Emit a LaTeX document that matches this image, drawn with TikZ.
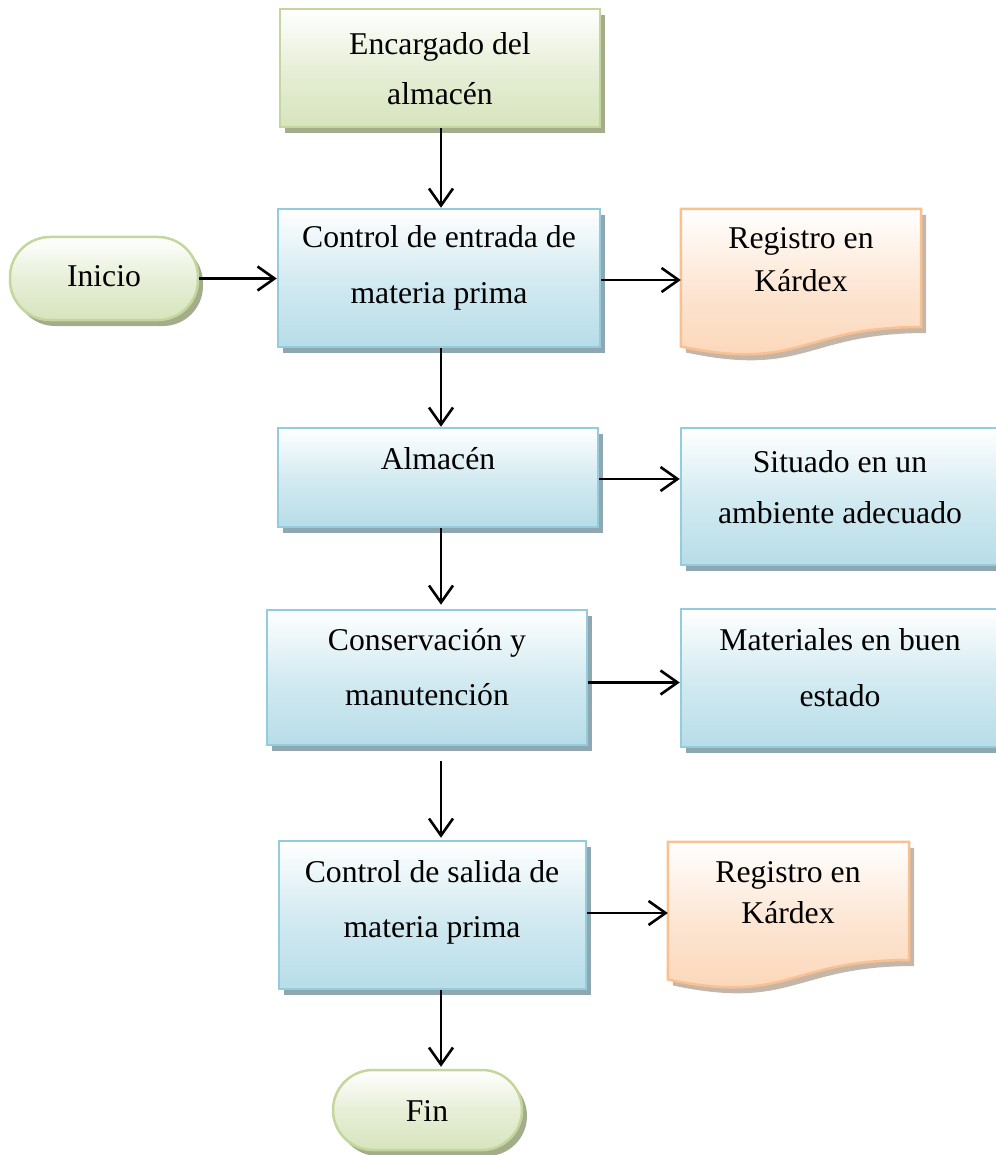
\documentclass[tikz,border=0pt]{standalone}
\usepackage{fontspec}
\setmainfont{Liberation Serif}
\usetikzlibrary{arrows.meta,calc,shadows}

\definecolor{gborder}{HTML}{C3D69B}
\definecolor{gfill}{HTML}{D7E4BD}
\definecolor{gshadow}{HTML}{A3AD8C}
\definecolor{bborder}{HTML}{93CDDD}
\definecolor{bfill}{HTML}{B7DDE8}
\definecolor{bshadow}{HTML}{8EA7B0}
\definecolor{oborder}{HTML}{FAC090}
\definecolor{ofill}{HTML}{FBD4B4}
\definecolor{oshadow}{HTML}{C4B6A9}

\tikzset{
  sz/.style 2 args={minimum width=#1pt, minimum height=#2pt},
  boxbase/.style={inner sep=0pt, line width=2.5pt},
  greenbox/.style={boxbase, draw=gborder, top color=white, bottom color=gfill,
    middle color=gfill!60!white,
    drop shadow={shadow xshift=5pt, shadow yshift=-6pt, fill=gshadow, opacity=1}},
  bluebox/.style={boxbase, draw=bborder, top color=white, bottom color=bfill,
    middle color=bfill!60!white,
    drop shadow={shadow xshift=5pt, shadow yshift=-6pt, fill=bshadow, opacity=1}},
  terminal/.style={greenbox, rounded corners=40pt},
  docarea/.style={inner sep=0pt},
  docpaint/.style={draw=oborder, line width=2.5pt, line join=miter,
    top color=white, bottom color=ofill, middle color=ofill!60!white},
  txt/.style={font=\fontsize{31.7pt}{38pt}\selectfont, inner sep=0pt, anchor=base},
  flow/.style={line width=2.6pt, -{Straight Barb[length=17pt, width=24pt]}}
}

% wavy-bottom document symbol drawn over a named area node
\newcommand\docsymbol[1]{%
  \fill[oshadow] ($(#1.north west)+(5,6)$) -- ($(#1.north east)+(5,6)$)
    -- ($(#1.north east)!0.802!(#1.south east)+(5,6)$)
    .. controls ($(#1.north)!0.802!(#1.south)+(5,6)$) and ($(#1.north)!1.107!(#1.south)+(5,6)$)
    .. ($(#1.north west)!0.934!(#1.south west)+(5,6)$) -- cycle;
  \path[docpaint] (#1.north west) -- (#1.north east)
    -- ($(#1.north east)!0.802!(#1.south east)$)
    .. controls ($(#1.north)!0.802!(#1.south)$) and ($(#1.north)!1.107!(#1.south)$)
    .. ($(#1.north west)!0.934!(#1.south west)$) -- cycle;
}

\begin{document}
\begin{tikzpicture}[x=1pt, y=-1pt]
\useasboundingbox (0,0) rectangle (995,1155);

% boxes
\node[greenbox, sz={320}{118}] (enc) at (440,68) {};
\node[terminal, sz={188}{83}] (ini) at (104,278.5) {};
\node[bluebox, sz={322}{138}] (ce) at (439,278) {};
\node[docarea, sz={240}{147}] (reg1) at (801,282.5) {};
\docsymbol{reg1}
\node[bluebox, sz={320}{99}] (alm) at (438,477.5) {};
\node[bluebox, sz={318}{137}] (sit) at (840,496.5) {};
\node[bluebox, sz={320}{135}] (cons) at (427,677.5) {};
\node[bluebox, sz={318}{138}] (mat) at (840,678) {};
\node[bluebox, sz={307}{148}] (cs) at (432.5,915) {};
\node[docarea, sz={241}{147}] (reg2) at (788.5,915.5) {};
\docsymbol{reg2}
\node[terminal, sz={189}{80}] (fin) at (427.5,1110) {};

% texts
\node[txt] (enc-a) at (440,55) {Encargado del};
\node[txt] (enc-b) at (440,105) {almacén};
\node[txt] (ini-a) at (104,287) {Inicio};
\node[txt] (ce-a) at (439,248) {Control de entrada de};
\node[txt] (ce-b) at (439,303) {materia prima};
\node[txt] (reg1-a) at (801,249) {Registro en};
\node[txt] (reg1-b) at (801,291) {Kárdex};
\node[txt] (alm-a) at (438,469) {Almacén};
\node[txt] (sit-a) at (840,472) {Situado en un};
\node[txt] (sit-b) at (840,523) {ambiente adecuado};
\node[txt] (cons-a) at (427,650) {Conservación y};
\node[txt] (cons-b) at (427,705) {manutención};
\node[txt] (mat-a) at (840,650) {Materiales en buen};
\node[txt] (mat-b) at (840,706) {estado};
\node[txt] (cs-a) at (432,882) {Control de salida de};
\node[txt] (cs-b) at (432,937) {materia prima};
\node[txt] (reg2-a) at (788,882) {Registro en};
\node[txt] (reg2-b) at (788,923) {Kárdex};
\node[txt] (fin-a) at (427,1121) {Fin};

% connectors
\coordinate (spine) at (441,0);
\draw[flow] (enc.south -| spine) -- (ce.north -| spine);
\draw[flow] (ini.east) -- (ini.east -| ce.west);
\draw[flow] ([yshift=-2pt]ce.east) -- ([yshift=-2pt]ce.east -| reg1.west);
\draw[flow] (ce.south -| spine) -- (alm.north -| spine);
\draw[flow] ([yshift=-1.5pt]alm.east) -- ([yshift=-1.5pt]alm.east -| sit.west);
\draw[flow, shorten >=4pt] (alm.south -| spine) -- (cons.north -| spine);
\draw[flow] ([yshift=-5pt]cons.east) -- ([yshift=-5pt]cons.east -| mat.west);
\draw[flow, shorten <=15pt, shorten >=2pt] (cons.south -| spine) -- (cs.north -| spine);
\draw[flow] ([yshift=2pt]cs.east) -- ([yshift=2pt]cs.east -| reg2.west);
\draw[flow, shorten >=2pt] (cs.south -| spine) -- (fin.north -| spine);
\end{tikzpicture}
\end{document}
